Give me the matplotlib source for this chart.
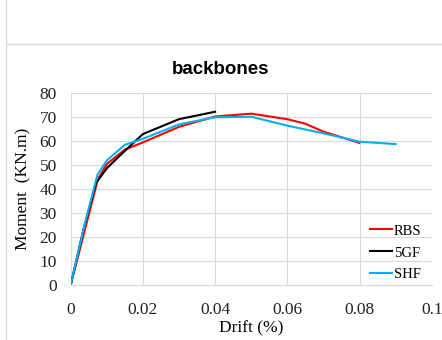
import matplotlib.pyplot as plt
from matplotlib.lines import Line2D
from matplotlib.ticker import FuncFormatter

# data
rbs_x = [0, 0.0075, 0.01, 0.015, 0.02, 0.03, 0.04, 0.05, 0.06, 0.065, 0.07, 0.08]
rbs_y = [0, 44, 50.5, 56.5, 59.5, 66, 70.3, 71.5, 69.2, 67.3, 64, 59.3]

gf_x = [0, 0.0035, 0.007, 0.01, 0.015, 0.02, 0.03, 0.04]
gf_y = [0, 23, 42.5, 48.7, 56, 63, 69.2, 72.3]

shf_x = [0, 0.0035, 0.0074, 0.01, 0.015, 0.02, 0.03, 0.04, 0.05, 0.06, 0.07, 0.08, 0.09]
shf_y = [0, 23, 46, 52, 58.5, 61, 67, 70, 70.2, 66.5, 63.3, 59.8, 58.8]

series = [
    ("RBS", rbs_x, rbs_y, "#ff0000"),
    ("5GF", gf_x, gf_y, "#000000"),
    ("SHF", shf_x, shf_y, "#00b0f0"),
]

serif = "Liberation Serif"

fig = plt.figure(figsize=(4.42, 3.40), dpi=100)
ax = fig.add_axes([0.16, 0.1618, 0.8167, 0.5638])

for label, xs, ys, c in series:
    ax.plot(xs, ys, color=c, lw=1.5, label=label)

ax.set_xlim(0, 0.1)
ax.set_ylim(0, 80)
ax.set_xticks([0, 0.02, 0.04, 0.06, 0.08, 0.1])
ax.set_yticks(range(0, 81, 10))
ax.xaxis.set_major_formatter(FuncFormatter(lambda v, p: "%g" % round(v, 3)))
ax.grid(True, color="#d9d9d9", lw=0.8)
ax.set_axisbelow(True)
for s in ["top", "right", "left"]:
    ax.spines[s].set_visible(False)
ax.spines["bottom"].set_color("#d9d9d9")
ax.tick_params(length=0)
ax.tick_params(axis="x", pad=12)
ax.tick_params(axis="y", pad=10)
for t in ax.get_xticklabels() + ax.get_yticklabels():
    t.set_fontfamily(serif)
    t.set_fontsize(12.5)
    t.set_color("#222222")

ax.set_xlabel("Drift (%)", family=serif, fontsize=12.5, labelpad=2)
ax.set_ylabel("Moment  (KN.m)", family=serif, fontsize=12.5, labelpad=6)

leg = ax.legend(loc="lower right", bbox_to_anchor=(1.0, -0.035), frameon=False,
                prop={"family": serif, "size": 10.5},
                handlelength=1.5, handletextpad=0.15, labelspacing=0.6,
                borderaxespad=0.3)

fig.text(0.5, 0.795, "backbones", ha="center", va="center",
         fontsize=13.5, fontweight="bold", family="Liberation Sans")

# chart frame edges from the screenshot
fig.add_artist(Line2D([6 / 442, 6 / 442], [0, 1], color="#d9d9d9", lw=1))
fig.add_artist(Line2D([6 / 442, 1], [1 - 44 / 340, 1 - 44 / 340], color="#d9d9d9", lw=1))

plt.savefig("out.png", dpi=100)
